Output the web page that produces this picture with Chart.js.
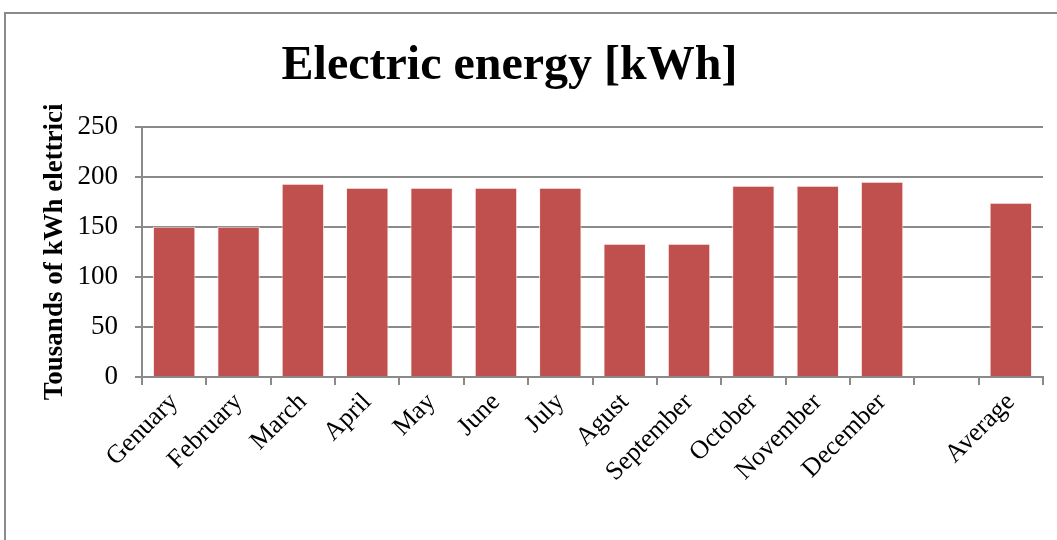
<!DOCTYPE html>
<html>
<head>
<meta charset="utf-8">
<script src="https://cdn.jsdelivr.net/npm/chart.js@4/dist/chart.umd.min.js"></script>
<style>
  html, body { margin: 0; padding: 0; background: #fff; overflow: hidden; }
  #wrap { position: relative; width: 1057px; height: 540px; }
  #frame { position: absolute; left: 4px; top: 12px; width: 1100px; height: 600px;
           border-top: 2px solid #8a8a8a; border-left: 2px solid #8a8a8a; }
  canvas { position: absolute; left: 0; top: 0; }
</style>
</head>
<body>
<div id="wrap">
  <div id="frame"></div>
  <canvas id="energia" width="1057" height="540"></canvas>
</div>
<script>
/* dati del grafico */
const mesi = ['Genuary','February','March','April','May','June','July','Agust','September','October','November','December','','Average'];
const consumi = [150, 150, 193, 189, 189, 189, 189, 133, 133, 191, 191, 195, null, 174];
const tickY = [0, 50, 100, 150, 200, 250];

const serif = 'Liberation Serif, Times New Roman, serif';
const grigio = '#8a8a8a';

/* sposta un po' il titolo a sinistra come nell'originale */
const spostaTitolo = {
  id: 'spostaTitolo',
  afterLayout(chart) {
    const t = chart.titleBlock;
    if (t) { t.left -= 12; t.right -= 12; }
  }
};

let context = document.querySelector('#energia').getContext('2d');
new Chart(context, {
  type: 'bar',
  data: {
    labels: mesi,
    datasets: [{
      data: consumi,
      backgroundColor: '#C0504D',
      borderColor: 'rgba(255,235,235,0.9)',
      borderWidth: 1,
      categoryPercentage: 1,
      barPercentage: 0.66
    }]
  },
  options: {
    responsive: false,
    animation: false,
    layout: { padding: { left: 0, right: 14, top: 0, bottom: 0 } },
    plugins: {
      legend: { display: false },
      tooltip: { enabled: false },
      title: {
        display: true,
        text: 'Electric energy [kWh]',
        color: '#000',
        font: { family: serif, size: 48, weight: 'bold' },
        padding: { top: 38, bottom: 31 }
      }
    },
    scales: {
      x: {
        grid: { display: true, drawOnChartArea: false, drawTicks: true, tickLength: 8, color: grigio, lineWidth: 2 },
        border: { display: true, color: grigio, width: 2 },
        ticks: {
          color: '#000',
          font: { family: serif, size: 26 },
          minRotation: 45, maxRotation: 45,
          autoSkip: false,
          padding: 2
        },
        afterFit(scale) { scale.height = 163; }
      },
      y: {
        min: 0, max: 250,
        afterBuildTicks(scale) { scale.ticks = tickY.map(v => ({ value: v })); },
        grid: { color: grigio, lineWidth: 2, tickLength: 7 },
        border: { display: true, color: grigio, width: 2 },
        ticks: { color: '#000', font: { family: serif, size: 27 }, padding: 17 },
        title: {
          display: true,
          text: 'Tousands of kWh elettrici',
          color: '#000',
          font: { family: serif, size: 27, weight: 'bold' },
          padding: { top: 39, bottom: 0 }
        },
        afterFit(scale) { scale.width = 142; }
      }
    }
  },
  plugins: [spostaTitolo]
});
</script>
</body>
</html>
